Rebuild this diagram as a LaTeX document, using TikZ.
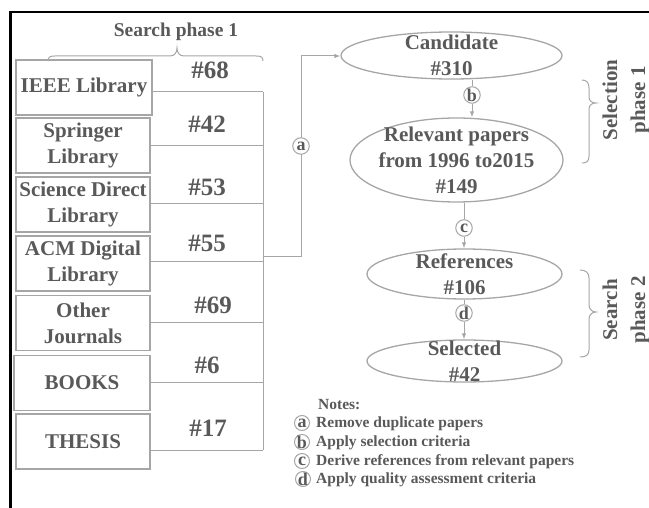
\documentclass[tikz,border=0pt]{standalone}
\usepackage{fontspec}
\setmainfont{Liberation Serif}
\usetikzlibrary{shapes.geometric,arrows.meta}
\definecolor{txt}{HTML}{595959}
\definecolor{ln}{HTML}{A6A6A6}
\newcommand{\cletter}[2]{\smash{\makebox[0pt]{\raisebox{#2}{#1}}}}
\begin{document}
\begin{tikzpicture}[x=1pt,y=-1pt,
  srcbox/.style={draw=ln,line width=1.5pt,minimum width=134pt,minimum height=55pt,inner sep=0pt,align=center,font=\fontsize{21}{26}\selectfont\bfseries,text=txt},
  cnt/.style={font=\fontsize{25}{30}\selectfont\bfseries,text=txt,inner sep=0pt},
  ellbox/.style={ellipse,draw=ln,line width=1.3pt,inner sep=0pt},
  elltext/.style={inner sep=0pt,align=center,font=\fontsize{21}{26}\selectfont\bfseries,text=txt},
  conn/.style={draw=ln,line width=1pt},
  arr/.style={conn,-{Latex[length=6pt,width=4.5pt]}},
  lab/.style={circle,draw=ln,line width=1pt,fill=white,inner sep=0pt,minimum size=16.5pt,font=\fontsize{18}{18}\selectfont\bfseries,text=txt},
  nlab/.style={circle,draw=ln,line width=1pt,inner sep=0pt,minimum size=15pt,font=\fontsize{18}{18}\selectfont\bfseries,text=txt},
  note/.style={inner sep=0pt,anchor=west,font=\fontsize{15.5}{18}\selectfont\bfseries,text=txt},
  ttl/.style={inner sep=0pt,font=\fontsize{19.5}{24}\selectfont\bfseries,text=txt},
  rot/.style={inner sep=0pt,rotate=90,align=center,font=\fontsize{21}{28}\selectfont\bfseries,text=txt},
]
\useasboundingbox (0,0) rectangle (649,508);
% frame
\draw[line width=2.3pt,black] (10.5,508) -- (10.5,12) -- (649,12);

% title and top brace
\node[ttl] (sp1) at (176,32) {Search phase 1};
\draw[conn] (48,61) .. controls (48,57) and (50,56) .. (55,56) -- (170,56)
  .. controls (175,56) and (177,52) .. (177,48)
  .. controls (177,52) and (179,56) .. (184,56) -- (256,56)
  .. controls (261,56) and (263,57) .. (263,61);

% source boxes
\node[srcbox,minimum width=136pt] (ieee) at (84,87.5) {IEEE Library};
\node[srcbox] (spr) at (83,145.5) {Springer\\Library};
\node[srcbox] (sci) at (83,204.5) {Science Direct\\Library};
\node[srcbox] (acm) at (83,263.5) {ACM Digital\\Library};
\node[srcbox] (oth) at (83,323) {Other\\Journals};
\node[srcbox,minimum width=136pt] (bks) at (82,383) {BOOKS};
\node[srcbox] (ths) at (83,441.5) {THESIS};

% counts
\node[cnt] (n68) at (210,70) {\#68};
\node[cnt] (n42) at (207,124) {\#42};
\node[cnt] (n53) at (207,187) {\#53};
\node[cnt] (n55) at (207,243) {\#55};
\node[cnt] (n69) at (213,305) {\#69};
\node[cnt] (n6) at (207,365) {\#6};
\node[cnt] (n17) at (208,428) {\#17};

% junctions
\coordinate (j68) at (263,92);
\coordinate (j42) at (263,146);
\coordinate (j53) at (263,204);
\coordinate (j55) at (263,262);
\coordinate (j69) at (263,323);
\coordinate (j6) at (263,382);
\coordinate (j17) at (263,450);
\coordinate (ja) at (263,257);
\coordinate (jb) at (301,257);
\coordinate (jt) at (301,56);

\draw[conn] (ieee.east |- j68) -- (j68);
\draw[conn] (spr.east |- j42) -- (j42);
\draw[conn] (sci.east |- j53) -- (j53);
\draw[conn] (acm.east |- j55) -- (j55);
\draw[conn] (oth.east |- j69) -- (j69);
\draw[conn] (bks.east |- j6) -- (j6);
\draw[conn] (ths.east |- j17) -- (j17);
\draw[conn] (j68) -- (j17);

% ellipses
\node[ellbox,minimum width=221pt,minimum height=47pt] (cand) at (451.5,55.5) {};
\node[elltext] (candt) at (cand.center) {Candidate\\\#310};
\node[ellbox,minimum width=213pt,minimum height=84pt] (rel) at (456.5,160) {};
\node[elltext] (relt) at (rel.center) {Relevant papers\\from 1996 to2015\\\#149};
\node[ellbox,minimum width=195pt,minimum height=50pt] (refs) at (464.5,274) {};
\node[elltext] (refst) at (refs.center) {References\\\#106};
\node[ellbox,minimum width=195pt,minimum height=42pt] (sel) at (464.5,361) {};
\node[elltext] (selt) at (sel.center) {Selected\\\#42};

% path a
\draw[arr] (ja) -- (jb) -- (jt) -- (cand.west |- jt);
\node[lab] (la) at (301,146) {a};

% b, c, d
\node[lab] (lb) at (472,95) {b};
\node[lab] (lc) at (464,228) {c};
\node[lab] (ld) at (464,313) {d};
\draw[conn] (cand.south -| lb) -- (lb);
\draw[arr] (lb) -- (lb |- rel.north);
\draw[conn] (rel.south -| lc) -- (lc);
\draw[arr] (lc) -- (lc |- refs.north);
\draw[conn] (refs.south -| ld) -- (ld);
\draw[arr] (ld) -- (ld |- sel.north);

% right braces
\draw[conn] (582,80) .. controls (587,80) and (589,83) .. (589,88) -- (589,97)
  .. controls (589,101) and (592,103) .. (596,103)
  .. controls (592,103) and (589,105) .. (589,109) -- (589,156)
  .. controls (589,161) and (587,163) .. (582,163);
\draw[conn] (580,270) .. controls (586,270) and (589,273) .. (589,278) -- (589,305)
  .. controls (589,309) and (592,312) .. (596,312)
  .. controls (592,312) and (589,315) .. (589,319) -- (589,350)
  .. controls (589,355) and (586,357) .. (580,357);
\node[rot] (selp) at (626,100) {Selection\\phase 1};
\node[rot] (srp) at (626,310) {Search\\phase 2};

% notes
\node[note] (notes) at (318,405) {Notes:};
\node[nlab] (na) at (302,423) {\cletter{a}{-0.24em}};
\node[note] (nat) at (316,424) {Remove duplicate papers};
\node[nlab] (nb) at (302,442) {\cletter{b}{-0.34em}};
\node[note] (nbt) at (316,443) {Apply selection criteria};
\node[nlab] (nc) at (302,461) {\cletter{c}{-0.24em}};
\node[note] (nct) at (316,462) {Derive references from relevant papers};
\node[nlab] (nd) at (303,479) {\cletter{d}{-0.34em}};
\node[note] (ndt) at (316,480) {Apply quality assessment criteria};
\end{tikzpicture}
\end{document}
